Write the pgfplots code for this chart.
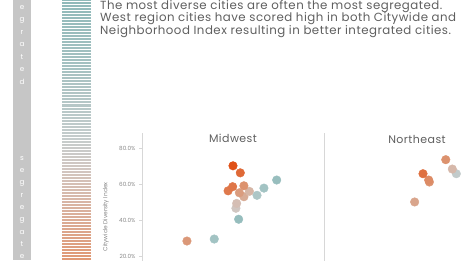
\documentclass[border=0pt]{standalone}
\usepackage{pgfplots}
\pgfplotsset{compat=1.18}
\usepackage{fontspec}
\setmainfont{Poppins}
\newfontfamily\headfont[LetterSpace=4]{Poppins}
\definecolor{txt}{RGB}{95,95,95}
\definecolor{tick}{RGB}{135,135,135}
\definecolor{axl}{RGB}{215,215,215}
\definecolor{barg}{RGB}{198,198,198}
\pgfplotsset{
  colormap={stripecm}{rgb255(0cm)=(224,152,116) rgb255(3cm)=(220,166,140) rgb255(6cm)=(216,182,166) rgb255(9cm)=(210,198,192) rgb255(12cm)=(198,204,204) rgb255(15cm)=(184,200,200) rgb255(20cm)=(162,192,192) rgb255(26cm)=(144,186,186)},
  colormap={pointcm}{rgb255(0cm)=(140,184,184) rgb255(5cm)=(165,196,196) rgb255(9cm)=(198,204,204) rgb255(11cm)=(212,196,190) rgb255(13cm)=(216,172,150) rgb255(15cm)=(220,146,110) rgb255(17cm)=(223,118,72) rgb255(20cm)=(224,80,22)},
  panel/.style={scale only axis, width=182pt, height=141.6pt,
    xmin=0, xmax=100, ymin=10, ymax=88.7,
    axis x line=none, axis y line*=left,
    axis line style={draw=axl, -}, tick style={draw=axl},
    tick align=outside, major tick length=3pt,
    xtick=\empty,
    yticklabel style={font=\fontsize{5.7}{6}\selectfont, text=tick},
    clip=false},
  pts/.style={scatter, only marks, mark=*, mark size=4.3pt,
    colormap name=pointcm, point meta=explicit, point meta min=-1, point meta max=1,
    scatter/use mapped color={draw=mapped color, fill=mapped color}}
}
\begin{document}
\begin{tikzpicture}[x=1pt,y=1pt]
\useasboundingbox (0,0) rectangle (465,260);
\clip (0,0) rectangle (465,260);
% side band
\fill[barg] (13,0) rectangle (31,260);
\foreach \l [count=\i] in {d,e,t,a,r,g,e}
  \node[anchor=base, inner sep=0, text=white, font=\fontsize{7.2}{7}\selectfont] at (22,{260-84.5+(\i-1)*12.5}) {\l};
\foreach \l [count=\i] in {s,e,g,r,e,g,a,t,e}
  \node[anchor=base, inner sep=0, text=white, font=\fontsize{7.2}{7}\selectfont] at (22,{260-160.3-(\i-1)*12.3}) {\l};
% stripe legend
\begin{axis}[at={(62pt,0pt)}, anchor=south west, scale only axis, width=29pt, height=260pt,
  xmin=0, xmax=1, ymin=0, ymax=260, hide axis, clip=false]
\addplot[scatter, only marks, mark=-, mark size=14.5pt, colormap name=stripecm,
  point meta=y, point meta min=0, point meta max=260,
  mark options={line width=2pt},
  scatter/use mapped color={draw=mapped color, fill=mapped color}] coordinates {
(0.5,1.5)(0.5,4.5)(0.5,7.5)(0.5,10.5)(0.5,13.5)(0.5,16.5)(0.5,19.5)(0.5,22.5)(0.5,25.5)(0.5,28.5)
(0.5,31.5)(0.5,34.5)(0.5,37.5)(0.5,40.5)(0.5,43.5)(0.5,46.5)(0.5,49.5)(0.5,52.5)(0.5,55.5)(0.5,58.5)
(0.5,61.5)(0.5,64.5)(0.5,67.5)(0.5,70.5)(0.5,73.5)(0.5,76.5)(0.5,79.5)(0.5,82.5)(0.5,85.5)(0.5,88.5)
(0.5,91.5)(0.5,94.5)(0.5,97.5)(0.5,100.5)(0.5,103.5)(0.5,106.5)(0.5,109.5)(0.5,112.5)(0.5,115.5)(0.5,118.5)
(0.5,121.5)(0.5,124.5)(0.5,127.5)(0.5,130.5)(0.5,133.5)(0.5,136.5)(0.5,139.5)(0.5,142.5)(0.5,145.5)(0.5,148.5)
(0.5,151.5)(0.5,154.5)(0.5,157.5)(0.5,160.5)(0.5,163.5)(0.5,166.5)(0.5,169.5)(0.5,172.5)(0.5,175.5)(0.5,178.5)
(0.5,181.5)(0.5,184.5)(0.5,187.5)(0.5,190.5)(0.5,193.5)(0.5,196.5)(0.5,199.5)(0.5,202.5)(0.5,205.5)(0.5,208.5)
(0.5,211.5)(0.5,214.5)(0.5,217.5)(0.5,220.5)(0.5,223.5)(0.5,226.5)(0.5,229.5)(0.5,232.5)(0.5,235.5)(0.5,238.5)
(0.5,241.5)(0.5,244.5)(0.5,247.5)(0.5,250.5)(0.5,253.5)(0.5,256.5)(0.5,259.5)
};
\end{axis}
% headline
\node[anchor=base west, inner sep=0, text=txt, font=\headfont\fontsize{11.8}{12}\selectfont] at (100,{260-9.3}) {The most diverse cities are often the most segregated.};
\node[anchor=base west, inner sep=0, text=txt, font=\headfont\fontsize{11.8}{12}\selectfont] at (100,{260-21.7}) {West region cities have scored high in both Citywide and};
\node[anchor=base west, inner sep=0, text=txt, font=\headfont\fontsize{11.8}{12}\selectfont] at (100,{260-34.1}) {Neighborhood Index resulting in better integrated cities.};
% Midwest
\begin{axis}[panel, at={(142pt,-14.3pt)}, anchor=south west,
  ytick={20,40,60,80}, yticklabels={20.0\%,40.0\%,60.0\%,80.0\%}]
\addplot[pts] table[meta=m] {
x y m
24.7 28.5 0.45
39.7 29.6 -0.55
53.1 40.6 -0.8
51.6 46.7 0.05
52.0 49.4 0.15
56.0 53.1 0.3
59.0 56.1 0.22
53.5 55.3 0.42
56.0 59.2 0.5
47.3 56.4 0.68
49.8 58.7 0.7
54.0 66.4 0.8
50.0 70.3 1.0
63.2 53.9 -0.4
67.0 57.9 -0.55
74.0 62.4 -0.75
};
\end{axis}
% Northeast
\begin{axis}[panel, at={(324pt,-14.3pt)}, anchor=south west, ytick=\empty]
\addplot[pts] table[meta=m] {
x y m
49.8 50.2 0.35
57.9 61.3 0.5
57.5 62.4 0.55
54.4 65.9 0.75
72.7 65.9 -0.15
70.5 68.5 0.2
66.9 73.7 0.5
};
\end{axis}
\node[text=txt, font=\headfont\fontsize{11}{12}\selectfont] at (233,{260-138.5}) {Midwest};
\node[text=txt, font=\headfont\fontsize{11}{12}\selectfont] at (417,{260-139}) {Northeast};
\node[rotate=90, text=tick, font=\fontsize{5.9}{6}\selectfont] at (106,{260-217}) {Citywide Diversity Index};
\end{tikzpicture}
\end{document}
